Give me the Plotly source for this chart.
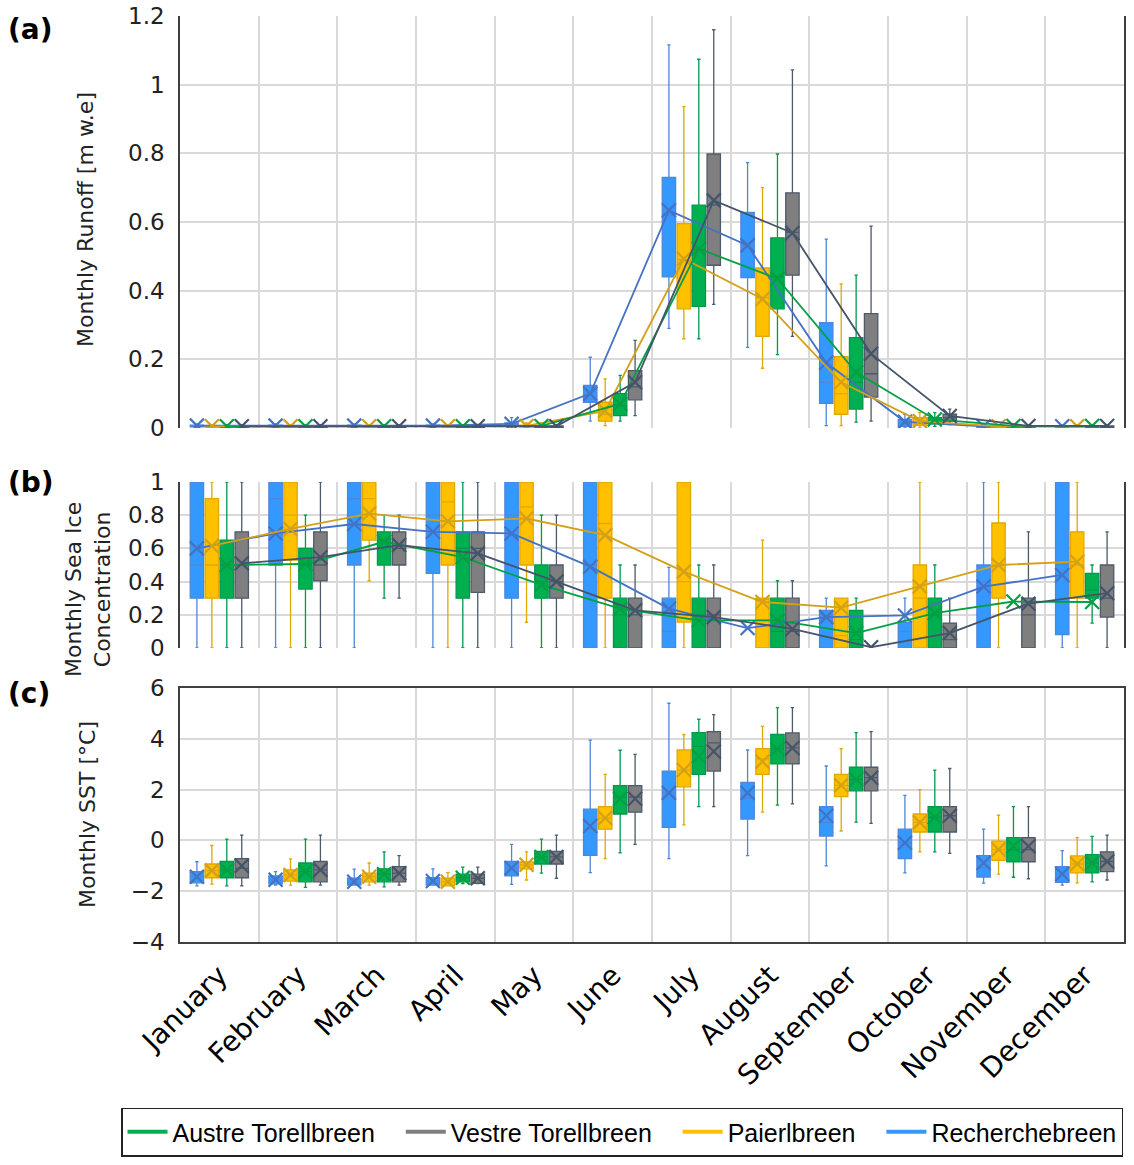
import plotly.graph_objects as go

months = ['January', 'February', 'March', 'April', 'May', 'June', 'July',
          'August', 'September', 'October', 'November', 'December']
glaciers = ['Recherchebreen', 'Paierlbreen', 'Austre Torellbreen', 'Vestre Torellbreen']

# each month: (lower whisker, q1, median, q3, upper whisker, mean); None = no box drawn
# (a) monthly runoff [m w.e]
runoff_recherche = [(0, 0.003, 0.005, 0.008, 0.012, 0.007), (0, 0.003, 0.005, 0.008, 0.012, 0.007),
                    (0, 0.003, 0.005, 0.008, 0.012, 0.007), (0, 0.003, 0.005, 0.008, 0.012, 0.007),
                    (0.002, 0.006, 0.01, 0.015, 0.03, 0.012), (0.02, 0.075, 0.085, 0.124, 0.206, 0.10),
                    (0.29, 0.44, 0.62, 0.73, 1.116, 0.634), (0.235, 0.438, 0.53, 0.628, 0.773, 0.532),
                    (0.007, 0.072, 0.133, 0.307, 0.55, 0.19), (0.0, 0.005, 0.012, 0.025, 0.04, 0.018),
                    (0, 0.002, 0.004, 0.006, 0.012, 0.005), (0, 0.002, 0.004, 0.006, 0.01, 0.005)]
runoff_paierl = [(0, 0.002, 0.004, 0.006, 0.01, 0.005), (0, 0.002, 0.004, 0.006, 0.01, 0.005),
                 (0, 0.002, 0.004, 0.006, 0.01, 0.005), (0, 0.002, 0.004, 0.006, 0.01, 0.005),
                 (0, 0.003, 0.005, 0.008, 0.015, 0.006), (0.007, 0.02, 0.04, 0.075, 0.143, 0.05),
                 (0.26, 0.347, 0.49, 0.595, 0.936, 0.493), (0.174, 0.267, 0.38, 0.466, 0.70, 0.376),
                 (0.007, 0.04, 0.10, 0.208, 0.42, 0.133), (0.002, 0.008, 0.015, 0.03, 0.045, 0.02),
                 (0, 0.002, 0.004, 0.006, 0.01, 0.005), (0, 0.002, 0.004, 0.006, 0.01, 0.005)]
runoff_austre = [(0, 0.002, 0.004, 0.006, 0.01, 0.005), (0, 0.002, 0.004, 0.006, 0.01, 0.005),
                 (0, 0.002, 0.004, 0.006, 0.01, 0.005), (0, 0.002, 0.004, 0.006, 0.01, 0.005),
                 (0, 0.002, 0.004, 0.006, 0.012, 0.006), (0.02, 0.036, 0.065, 0.10, 0.153, 0.07),
                 (0.26, 0.354, 0.52, 0.649, 1.074, 0.522), (0.214, 0.347, 0.44, 0.554, 0.798, 0.435),
                 (0.017, 0.055, 0.133, 0.263, 0.445, 0.162), (0.005, 0.012, 0.02, 0.03, 0.045, 0.025),
                 (0, 0.002, 0.004, 0.006, 0.01, 0.006), (0, 0.002, 0.004, 0.006, 0.01, 0.006)]
runoff_vestre = [(0, 0.002, 0.004, 0.006, 0.01, 0.005), (0, 0.002, 0.004, 0.006, 0.01, 0.005),
                 (0, 0.002, 0.004, 0.006, 0.01, 0.005), (0, 0.002, 0.004, 0.006, 0.01, 0.005),
                 (0, 0.002, 0.004, 0.006, 0.01, 0.005), (0.036, 0.082, 0.12, 0.167, 0.255, 0.133),
                 (0.36, 0.474, 0.65, 0.798, 1.16, 0.663), (0.267, 0.445, 0.57, 0.685, 1.043, 0.568),
                 (0.02, 0.09, 0.158, 0.333, 0.588, 0.216), (0.01, 0.02, 0.03, 0.04, 0.055, 0.035),
                 (0, 0.002, 0.004, 0.006, 0.01, 0.006), (0, 0.002, 0.004, 0.006, 0.01, 0.006)]

# (b) monthly sea ice concentration
ice_recherche = [(0, 0.30, 0.50, 1.0, 1.0, 0.60), (0, 0.50, 0.90, 1.0, 1.0, 0.69),
                 (0, 0.50, 0.90, 1.0, 1.0, 0.747), (0, 0.45, 0.80, 1.0, 1.0, 0.70),
                 (0, 0.30, 0.80, 1.0, 1.0, 0.69), (0, 0, 0.5, 1.0, 1.0, 0.49),
                 (0, 0, 0.1, 0.30, 0.486, 0.237), (None, None, None, None, None, 0.12),
                 (0, 0, 0.2, 0.227, 0.30, 0.186), (0, 0, 0.1, 0.156, 0.30, 0.196),
                 (0, 0, 0.4, 0.5, 1.0, 0.37), (0, 0.08, 0.5, 1.0, 1.0, 0.44)]
ice_paierl = [(0, 0.30, 0.50, 0.90, 1.0, 0.615), (0, 0.53, 0.8, 1.0, 1.0, 0.717),
              (0.405, 0.65, 0.9, 1.0, 1.0, 0.81), (0, 0.50, 0.88, 1.0, 1.0, 0.763),
              (0.155, 0.50, 0.85, 1.0, 1.0, 0.78), (0, 0.30, 0.75, 1.0, 1.0, 0.68),
              (0, 0.156, 0.4, 1.0, 1.0, 0.46), (0, 0, 0.3, 0.30, 0.65, 0.277),
              (0, 0, 0.075, 0.30, 0.30, 0.243), (0, 0, 0.3, 0.5, 1.0, 0.37),
              (0, 0.30, 0.5, 0.753, 1.0, 0.50), (0, 0.30, 0.5, 0.70, 1.0, 0.52)]
ice_austre = [(0, 0.30, 0.5, 0.65, 1.0, 0.50), (0, 0.355, 0.5, 0.60, 0.80, 0.506),
              (0.30, 0.50, 0.65, 0.70, 0.80, 0.64), (0, 0.30, 0.6, 0.70, 1.0, 0.547),
              (0, 0.30, 0.4, 0.50, 0.80, 0.38), (0, 0, 0.2, 0.30, 0.50, 0.237),
              (0, 0, 0.2, 0.30, 0.50, 0.166), (0, 0, 0.1, 0.30, 0.405, 0.166),
              (0, 0, 0.05, 0.227, 0.30, 0.09), (0, 0, 0.2, 0.30, 0.50, 0.21),
              (None, None, None, None, None, 0.28), (0.15, 0.30, 0.35, 0.45, 0.50, 0.277)]
ice_vestre = [(0, 0.30, 0.5, 0.70, 1.0, 0.51), (0, 0.405, 0.5, 0.70, 1.0, 0.547),
              (0.30, 0.50, 0.6, 0.70, 0.80, 0.62), (0, 0.335, 0.6, 0.70, 1.0, 0.57),
              (0, 0.30, 0.4, 0.50, 0.80, 0.40), (0, 0, 0.2, 0.30, 0.50, 0.227),
              (0, 0, 0.2, 0.30, 0.50, 0.186), (0, 0, 0.1, 0.30, 0.405, 0.115),
              (None, None, None, None, None, 0.005), (0, 0, 0.05, 0.15, 0.30, 0.09),
              (0, 0, 0.2, 0.30, 0.70, 0.267), (0, 0.186, 0.3, 0.50, 0.70, 0.33)]

# (c) monthly SST [°C]
sst_recherche = [(-1.79, -1.67, -1.43, -1.23, -0.84, -1.43), (-1.76, -1.71, -1.55, -1.40, -1.23, -1.55),
                 (-1.76, -1.76, -1.63, -1.49, -1.13, -1.63), (-1.76, -1.76, -1.6, -1.47, -1.12, -1.6),
                 (-1.73, -1.40, -1.1, -0.83, -0.16, -1.09), (-1.27, -0.59, 0.44, 1.23, 3.95, 0.57),
                 (-0.72, 0.51, 1.87, 2.73, 5.4, 1.87), (-0.6, 0.84, 1.68, 2.28, 3.56, 1.87),
                 (-1.0, 0.17, 0.71, 1.33, 2.93, 0.97), (-1.28, -0.72, -0.09, 0.44, 1.77, -0.09),
                 (-1.68, -1.44, -1.07, -0.6, 0.44, -0.89), (-1.76, -1.65, -1.32, -1.03, -0.4, -1.32)]
sst_paierl = [(-1.72, -1.47, -1.19, -0.93, -0.2, -1.19), (-1.76, -1.6, -1.36, -1.16, -0.73, -1.36),
              (-1.76, -1.63, -1.43, -1.29, -0.89, -1.43), (-1.79, -1.79, -1.63, -1.49, -1.27, -1.63),
              (-1.56, -1.12, -0.96, -0.85, -0.45, -0.96), (-0.72, 0.44, 0.88, 1.33, 2.6, 0.88),
              (0.61, 2.11, 2.77, 3.56, 4.17, 2.77), (1.11, 2.6, 3.21, 3.61, 4.49, 3.11),
              (0.37, 1.72, 2.17, 2.6, 3.61, 2.17), (-0.45, 0.33, 0.71, 1.04, 2.0, 0.71),
              (-1.33, -0.79, -0.36, -0.03, 0.99, -0.36), (-1.67, -1.28, -0.93, -0.61, 0.11, -0.93)]
sst_austre = [(-1.79, -1.47, -1.16, -0.83, 0.05, -1.16), (-1.85, -1.63, -1.23, -0.89, 0.05, -1.23),
              (-1.83, -1.63, -1.33, -1.12, -0.45, -1.33), (-1.7, -1.63, -1.47, -1.33, -1.05, -1.47),
              (-1.29, -0.93, -0.65, -0.43, 0.05, -0.65), (-0.49, 1.04, 1.7, 2.16, 3.55, 1.64),
              (1.33, 2.6, 3.7, 4.24, 4.77, 3.31), (1.39, 3.01, 3.6, 4.17, 5.23, 3.6),
              (0.72, 1.95, 2.4, 2.88, 4.24, 2.4), (-0.45, 0.33, 0.91, 1.33, 2.77, 0.91),
              (-1.45, -0.84, -0.36, 0.11, 1.33, -0.23), (-1.63, -1.28, -0.89, -0.56, 0.16, -0.89)]
sst_vestre = [(-1.79, -1.47, -1.1, -0.72, 0.21, -1.0), (-1.76, -1.63, -1.16, -0.83, 0.21, -1.16),
              (-1.76, -1.63, -1.29, -1.03, -0.6, -1.29), (-1.7, -1.69, -1.49, -1.33, -1.05, -1.49),
              (-1.49, -0.93, -0.65, -0.43, 0.21, -0.65), (-0.16, 1.11, 1.7, 2.16, 3.39, 1.64),
              (1.33, 2.73, 3.84, 4.28, 4.95, 3.5), (1.44, 3.01, 3.64, 4.23, 5.23, 3.64),
              (0.67, 1.95, 2.47, 2.88, 4.28, 2.47), (-0.51, 0.33, 0.97, 1.33, 2.83, 0.97),
              (-1.51, -0.84, -0.36, 0.11, 1.33, -0.23), (-1.56, -1.23, -0.83, -0.45, 0.21, -0.83)]

fills = ['#3399FF', '#FFC000', '#00B050', '#7F7F7F']
edges = ['#4F86D9', '#E0A800', '#00994A', '#4D5A6B']
mean_cols = ['#4472C4', '#D4A017', '#00A043', '#44546A']
offsets = [-0.285, -0.095, 0.095, 0.285]

panels = [
    ('y', [runoff_recherche, runoff_paierl, runoff_austre, runoff_vestre], True),
    ('y2', [ice_recherche, ice_paierl, ice_austre, ice_vestre], True),
    ('y3', [sst_recherche, sst_paierl, sst_austre, sst_vestre], False),
]

fig = go.Figure()

for yref, series, with_line in panels:
    for k, data in enumerate(series):
        pos = [i + offsets[k] for i in range(12)]
        keep = [i for i in range(12) if data[i][0] is not None]
        fig.add_trace(go.Box(
            x=[pos[i] for i in keep],
            lowerfence=[data[i][0] for i in keep],
            q1=[data[i][1] for i in keep],
            median=[data[i][2] for i in keep],
            q3=[data[i][3] for i in keep],
            upperfence=[data[i][4] for i in keep],
            width=0.17, whiskerwidth=0.25,
            fillcolor=fills[k], line=dict(color=edges[k], width=1.3),
            xaxis='x', yaxis=yref, showlegend=False, hoverinfo='skip',
        ))
    for k, data in enumerate(series):
        pos = [i + offsets[k] for i in range(12)]
        fig.add_trace(go.Scatter(
            x=pos, y=[d[5] for d in data],
            mode='lines+markers' if with_line else 'markers',
            line=dict(color=mean_cols[k], width=1.8),
            marker=dict(symbol='x-thin', size=14, line=dict(color=mean_cols[k], width=2.2)),
            xaxis='x', yaxis=yref, showlegend=False, hoverinfo='skip',
        ))

# legend entries (trailing non-breaking spaces widen the gaps between items)
legend_order = ['Austre Torellbreen', 'Vestre Torellbreen', 'Paierlbreen', 'Recherchebreen']
for j, name in enumerate(legend_order):
    k = glaciers.index(name)
    pad = '\u00a0' * 3 if j < len(legend_order) - 1 else ''
    fig.add_trace(go.Scatter(x=[None], y=[None], mode='lines', name=name + pad,
                             line=dict(color=fills[k], width=4), xaxis='x', yaxis='y3'))

grid = '#D9D9D9'
frame = dict(showline=True, linecolor='#404040', linewidth=1.5, mirror=True, automargin=False)
bounds = [i - 0.5 for i in range(13)]
ytick = dict(size=23, color='#222222')
xdom = [180 / 1134, 1124 / 1134]


def minor_grid():
    return dict(tickvals=bounds, showgrid=True, gridcolor=grid, gridwidth=1.5, ticks='')


fig.update_layout(
    width=1134, height=1165,
    margin=dict(l=0, r=0, t=0, b=0, autoexpand=False),
    paper_bgcolor='white', plot_bgcolor='white',
    font=dict(family='DejaVu Sans', size=19, color='#222222'),
    xaxis=dict(domain=xdom, range=[-0.5, 11.5], anchor='y3',
               tickvals=list(range(12)), ticktext=months, tickangle=-45, ticks='',
               ticklabelstandoff=4,
               tickfont=dict(size=28, color='black'), showgrid=False,
               minor=minor_grid(), zeroline=False, **frame),
    xaxis2=dict(domain=xdom, range=[-0.5, 11.5], anchor='y', matches='x',
                showticklabels=False, showgrid=False,
                minor=minor_grid(), zeroline=False, **frame),
    xaxis3=dict(domain=xdom, range=[-0.5, 11.5], anchor='y2', matches='x',
                showticklabels=False, showgrid=False,
                minor=minor_grid(), zeroline=False, **frame),
    yaxis=dict(domain=[1 - 428 / 1165, 1 - 16 / 1165], range=[0, 1.2], dtick=0.2, anchor='x2',
               gridcolor=grid, gridwidth=1.5, zeroline=False, ticks='', ticklabelstandoff=9,
               tickfont=ytick, **frame),
    yaxis2=dict(domain=[1 - 648 / 1165, 1 - 482 / 1165], range=[0, 1], dtick=0.2, anchor='x3',
                gridcolor=grid, gridwidth=1.5, zeroline=False, ticks='', ticklabelstandoff=9,
                tickfont=ytick, **frame),
    yaxis3=dict(domain=[1 - 942 / 1165, 1 - 688 / 1165], range=[-4, 6], dtick=2, anchor='x',
                gridcolor=grid, gridwidth=1.5, zeroline=False, ticks='', ticklabelstandoff=9,
                tickfont=ytick, **frame),
    legend=dict(orientation='h', x=622 / 1134, xanchor='center', y=1 - 1132 / 1165, yanchor='middle',
                bordercolor='#222222', borderwidth=1.5, bgcolor='white',
                font=dict(family='Liberation Sans Narrow, Liberation Sans', size=25, color='black'),
                itemwidth=40, tracegroupgap=0),
)

# axis titles
for text, xp, yp in [('Monthly Runoff [m w.e]', 85, 220),
                     ('Monthly Sea Ice<br>Concentration', 88, 590),
                     ('Monthly SST [°C]', 87, 815)]:
    fig.add_annotation(text=text, xref='paper', yref='paper', x=xp / 1134, y=1 - yp / 1165,
                       xanchor='center', yanchor='middle', textangle=-90, showarrow=False,
                       font=dict(size=22, color='#222222'))

for label, yp in [('(a)', 30), ('(b)', 482), ('(c)', 693)]:
    fig.add_annotation(text='<b>' + label + '</b>', xref='paper', yref='paper',
                       x=6 / 1134, y=1 - yp / 1165, xanchor='left', yanchor='middle', showarrow=False,
                       font=dict(size=28, color='black'))

fig.write_html("out.html", config={'displayModeBar': False},
               post_script="document.body.style.margin='0';")
